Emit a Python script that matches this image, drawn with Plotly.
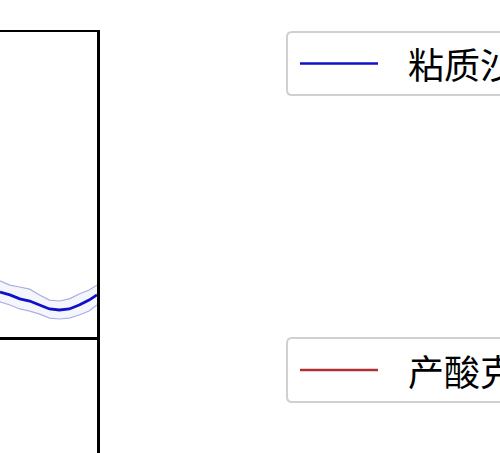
import plotly.graph_objects as go

# ---- data ----
days = [0, 10, 20, 30, 40, 50, 60, 70, 80, 90, 98]
serratia_mean = [14.75, 13.8, 12.5, 11.8, 10.5, 9.2, 8.85, 9.2, 10.5, 12.1, 13.8]
serratia_upper = [18.4, 17.0, 16.4, 15.7, 13.8, 12.1, 11.8, 12.5, 14.1, 15.4, 17.0]
serratia_lower = [11.5, 10.5, 9.2, 8.5, 7.5, 6.2, 5.9, 6.2, 7.2, 8.5, 10.5]
series_names = ["粘质沙雷氏菌", "产酸克雷伯菌"]
series_colors = ["#1010c8", "#b03030"]

W, H = 500, 453


def px(x):
    return x / W


def py(y):
    return 1 - y / H


fig = go.Figure()

# band
fig.add_trace(go.Scatter(x=days, y=serratia_upper, mode="lines",
                         line=dict(color="rgba(110,110,200,0.55)", width=1.2),
                         showlegend=False, hoverinfo="skip",
                         xaxis="x", yaxis="y"))
fig.add_trace(go.Scatter(x=days, y=serratia_lower, mode="lines",
                         line=dict(color="rgba(110,110,220,0.55)", width=1.2),
                         fill="tonexty", fillcolor="rgba(80,80,200,0.06)",
                         showlegend=False, hoverinfo="skip",
                         xaxis="x", yaxis="y"))
fig.add_trace(go.Scatter(x=days, y=serratia_mean, mode="lines",
                         line=dict(color=series_colors[0], width=2.8),
                         name=series_names[0], showlegend=False,
                         xaxis="x", yaxis="y"))

upper_bottom, upper_top = 337, 32
frame = dict(showline=True, linecolor="black", linewidth=2.5,
             showgrid=False, zeroline=False, showticklabels=False, ticks="")
noframe = dict(frame, showline=False)

fig.update_layout(
    width=W, height=H,
    margin=dict(l=0, r=0, t=0, b=0),
    paper_bgcolor="white", plot_bgcolor="white",
    showlegend=False,
    xaxis=dict(domain=[0, px(97)], range=[0, 98], mirror=True, anchor="y", **frame),
    yaxis=dict(domain=[py(upper_bottom), py(upper_top)], range=[0, 100],
               side="right", anchor="x", **frame),
    xaxis2=dict(domain=[0, px(97)], range=[0, 98], side="top", anchor="y2", **noframe),
    yaxis2=dict(domain=[0, py(upper_bottom + 1)], range=[0, 100],
                side="right", anchor="x2", **frame),
)

# empty second panel (its curve lies outside the visible region)
fig.add_trace(go.Scatter(x=[], y=[], xaxis="x2", yaxis="y2", showlegend=False))


def rounded_box(x0, y0, x1, y1, r=5):
    return (f"M {px(x0 + r)} {py(y0)} L {px(x1)} {py(y0)} L {px(x1)} {py(y1)} "
            f"L {px(x0 + r)} {py(y1)} Q {px(x0)} {py(y1)} {px(x0)} {py(y1 - r)} "
            f"L {px(x0)} {py(y0 + r)} Q {px(x0)} {py(y0)} {px(x0 + r)} {py(y0)} Z")


legend_boxes = [(287, 32, 95), (287, 338, 402)]
for (bx, by0, by1), name, col in zip(legend_boxes, series_names, series_colors):
    fig.add_shape(type="path", path=rounded_box(bx, by0, 530, by1),
                  xref="paper", yref="paper",
                  line=dict(color="#d0d0d0", width=2), fillcolor="white", layer="above")
    ly = (by0 + by1) / 2
    fig.add_shape(type="line", xref="paper", yref="paper",
                  x0=px(300), x1=px(378), y0=py(ly), y1=py(ly),
                  line=dict(color=col, width=2.5), layer="above")
    fig.add_annotation(text=name, xref="paper", yref="paper",
                       x=px(406), y=py(ly), xanchor="left", yanchor="middle",
                       showarrow=False,
                       font=dict(family="Noto Sans CJK SC", size=36, color="black"))

fig.write_html("out.html",
               config={"displayModeBar": False, "staticPlot": True},
               post_script="document.body.style.margin='0';document.body.style.overflow='hidden';")
